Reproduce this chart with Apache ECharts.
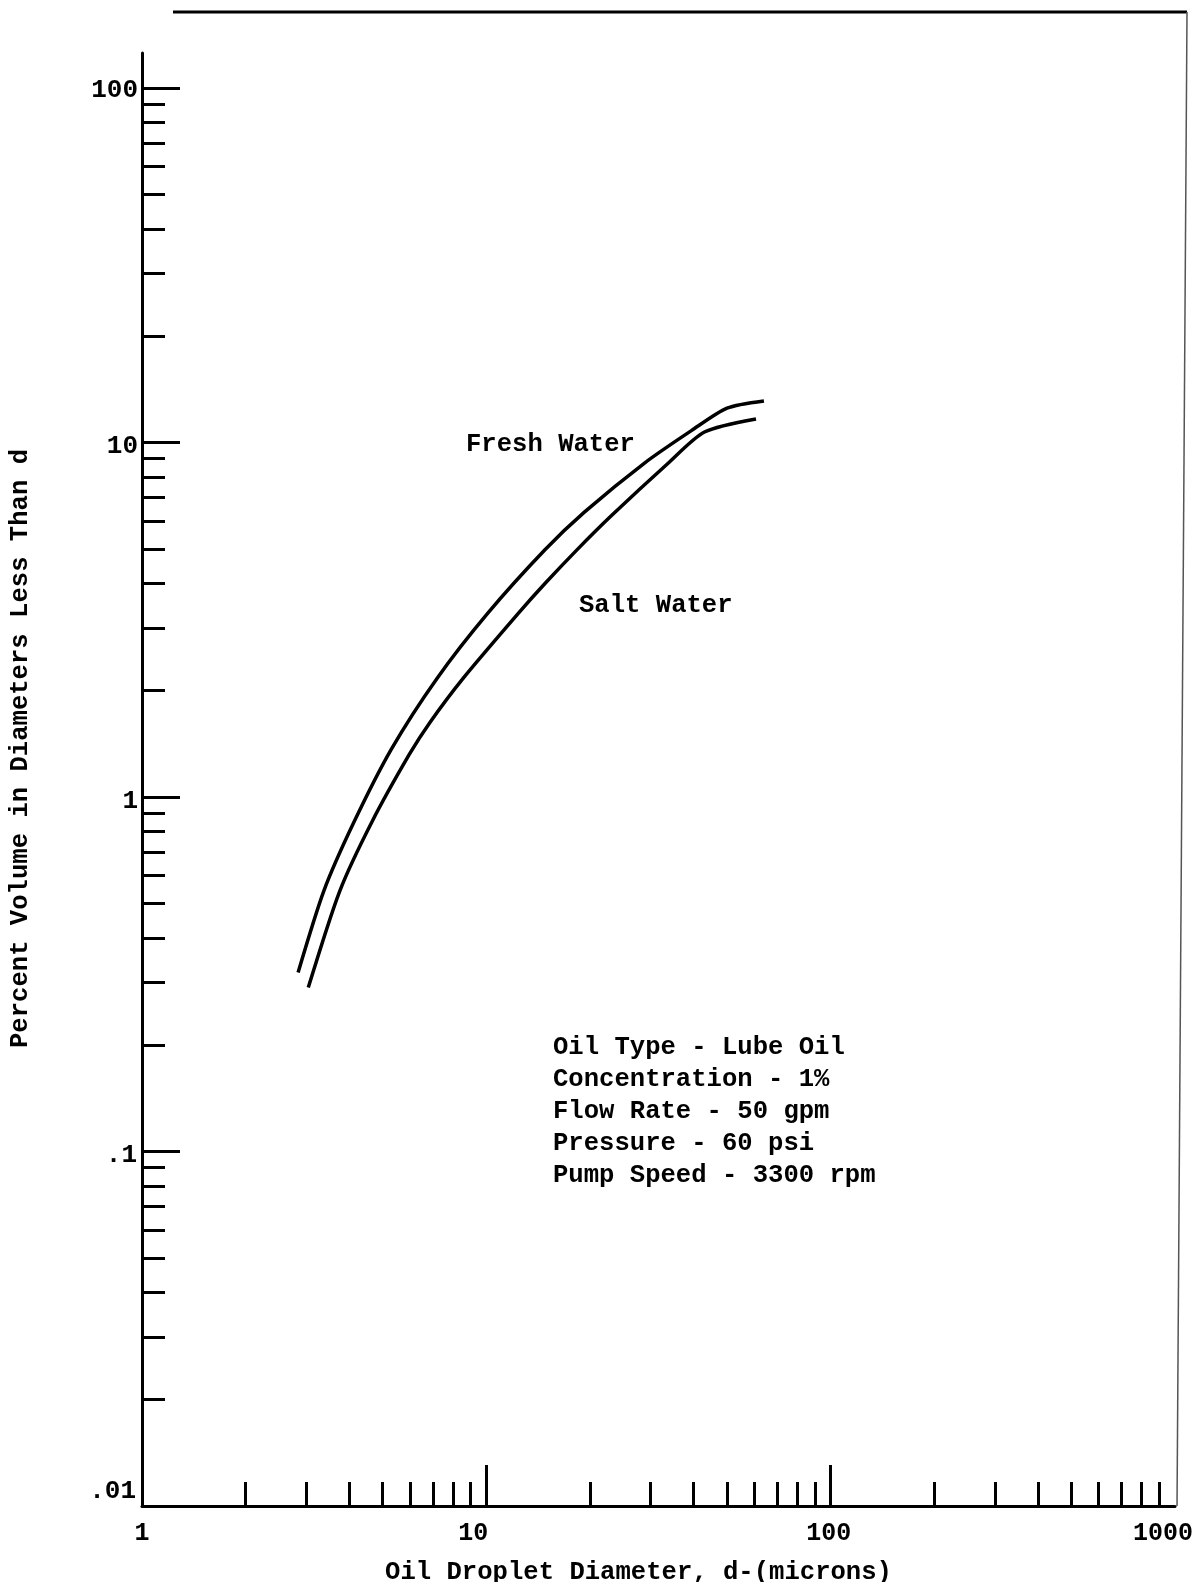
<!DOCTYPE html>
<html>
<head>
<meta charset="utf-8">
<script src="https://cdn.jsdelivr.net/npm/echarts@6/dist/echarts.min.js"></script>
<style>
  html, body { margin: 0; padding: 0; background: #fff; }
  #chart { width: 1197px; height: 1582px; }
</style>
</head>
<body>
<div id="chart"></div>
<script>
// ---- data ----
const freshX = [2.84, 3.37, 4.12, 5.30, 7.19, 10.1, 14.8, 19.3, 28.8, 39.4, 50.0, 64.0];
const freshY = [0.32, 0.542, 0.847, 1.365, 2.16, 3.30, 4.98, 6.37, 8.75, 10.8, 12.5, 13.1];
const saltX = [3.04, 3.75, 4.66, 5.98, 6.85, 8.56, 12.4, 14.8, 18.3, 23.1, 33.6, 43.0, 60.7];
const saltY = [0.29, 0.542, 0.853, 1.32, 1.62, 2.16, 3.30, 4.0, 4.97, 6.22, 8.71, 10.7, 11.65];

const xLabelValues = [1, 10, 100, 1000];
const xMajorTicks = [10, 100];
const xMinorTicks = [2, 3, 4, 5, 6, 7, 8, 9, 20, 30, 40, 50, 60, 70, 80, 90, 200, 300, 400, 500, 600, 700, 800, 900];
const yLabelValues = [0.01, 0.1, 1, 10, 100];
const yLabelTexts = ['.01', '.1', '1', '10', '100'];
const yMajorTicks = [0.1, 1, 10, 100];
const yMinorTicks = [0.02, 0.03, 0.04, 0.05, 0.06, 0.07, 0.08, 0.09,
                     0.2, 0.3, 0.4, 0.5, 0.6, 0.7, 0.8, 0.9,
                     2, 3, 4, 5, 6, 7, 8, 9,
                     20, 30, 40, 50, 60, 70, 80, 90];

const freshLabel = 'Fresh Water';
const saltLabel = 'Salt Water';
const noteLines = ['Oil Type - Lube Oil', 'Concentration - 1%', 'Flow Rate - 50 gpm', 'Pressure - 60 psi', 'Pump Speed - 3300 rpm'];
const xTitle = 'Oil Droplet Diameter, d-(microns)';
const yTitle = 'Percent Volume in Diameters Less Than d';

// ---- chart ----
const FONT = '"Liberation Mono", "DejaVu Sans Mono", monospace';
const pairs = (xs, ys) => xs.map((x, i) => [x, ys[i]]);
const near = (a, b) => Math.abs(Math.log10(a) - Math.log10(b)) < 1e-6;
const txt = (size, padding) => ({ fontFamily: FONT, fontWeight: 'bold', fontSize: size, color: '#000', padding: padding });

const chart = echarts.init(document.getElementById('chart'), null, { renderer: 'canvas' });

const option = {
  backgroundColor: '#fff',
  animation: false,
  grid: { left: 142, right: 22, top: 53, bottom: 76, containLabel: false, outerBoundsMode: 'none' },
  xAxis: [
    {
      type: 'log', logBase: 10, min: 1, max: 1000, position: 'bottom', offset: 0,
      axisLine: { show: true, lineStyle: { color: '#000', width: 3 } },
      axisTick: { show: true, inside: true, length: 41, lineStyle: { color: '#000', width: 3 }, customValues: xMajorTicks },
      axisLabel: {
        show: true, margin: 15, customValues: xLabelValues, hideOverlap: false,
        fontFamily: FONT, fontWeight: 'bold', fontSize: 25, color: '#000',
        formatter: function (v) {
          if (near(v, 1)) return '{a|1}';
          if (near(v, 10)) return '{b|10}';
          if (near(v, 100)) return '{c|100}';
          return '{d|1000}';
        },
        rich: {
          a: txt(25, [0, 0, 0, 0]),
          b: txt(25, [0, 26, 0, 0]),
          c: txt(25, [0, 4, 0, 0]),
          d: txt(25, [0, 24, 0, 0])
        }
      },
      splitLine: { show: false }, minorTick: { show: false }, minorSplitLine: { show: false },
      name: xTitle, nameLocation: 'middle', nameGap: 54,
      nameTextStyle: { fontFamily: FONT, fontWeight: 'bold', fontSize: 25.6, color: '#000', padding: [0, 40, 0, 0] }
    },
    {
      type: 'log', logBase: 10, min: 1, max: 1000, position: 'bottom', offset: 0,
      axisLine: { show: false },
      axisTick: { show: true, inside: true, length: 24, lineStyle: { color: '#000', width: 3 }, customValues: xMinorTicks },
      axisLabel: { show: false },
      splitLine: { show: false }
    }
  ],
  yAxis: [
    {
      type: 'log', logBase: 10, min: 0.01, max: 125.5, position: 'left', offset: 0,
      axisLine: { show: true, lineStyle: { color: '#000', width: 3 } },
      axisTick: { show: true, inside: true, length: 38, lineStyle: { color: '#000', width: 3 }, customValues: yMajorTicks },
      axisLabel: {
        show: true, margin: 4, customValues: yLabelValues, hideOverlap: false,
        fontFamily: FONT, fontWeight: 'bold', fontSize: 26, color: '#000',
        formatter: function (v) {
          const keys = ['p', 'q', 'r', 's', 't'];
          for (let i = 0; i < yLabelValues.length; i++) {
            if (near(v, yLabelValues[i])) return '{' + keys[i] + '|' + yLabelTexts[i] + '}';
          }
          return '';
        },
        rich: {
          p: txt(26, [0, 2, 30, 0]),
          q: txt(26, [8, 1, 0, 0]),
          r: txt(26, [8, 0, 0, 0]),
          s: txt(26, [8, 0, 0, 0]),
          t: txt(26, [4, 0, 0, 0])
        }
      },
      splitLine: { show: false }, minorTick: { show: false },
      name: yTitle, nameLocation: 'middle', nameGap: 108,
      nameTextStyle: { fontFamily: FONT, fontWeight: 'bold', fontSize: 25.6, color: '#000', padding: [0, 0, 0, 62] }
    },
    {
      type: 'log', logBase: 10, min: 0.01, max: 125.5, position: 'left', offset: 0,
      axisLine: { show: false },
      axisTick: { show: true, inside: true, length: 23, lineStyle: { color: '#000', width: 3 }, customValues: yMinorTicks },
      axisLabel: { show: false },
      splitLine: { show: false }
    }
  ],
  series: [
    {
      name: freshLabel, type: 'line', xAxisIndex: 0, yAxisIndex: 0,
      data: pairs(freshX, freshY), smooth: 0.25, showSymbol: false, symbol: 'none',
      lineStyle: { color: '#000', width: 3.5 }, z: 5
    },
    {
      name: saltLabel, type: 'line', xAxisIndex: 0, yAxisIndex: 0,
      data: pairs(saltX, saltY), smooth: 0.25, showSymbol: false, symbol: 'none',
      lineStyle: { color: '#000', width: 3.5 }, z: 5
    }
  ],
  graphic: [
    { type: 'line', shape: { x1: 173, y1: 12, x2: 1187, y2: 12 }, style: { stroke: '#000', lineWidth: 3 } },
    { type: 'line', shape: { x1: 1187, y1: 12, x2: 1177, y2: 1506 }, style: { stroke: '#555', lineWidth: 1.5 } },
    { type: 'text', left: 466, top: 432, style: { text: freshLabel, font: 'bold 25.6px ' + FONT, fill: '#000' } },
    { type: 'text', left: 579, top: 593, style: { text: saltLabel, font: 'bold 25.6px ' + FONT, fill: '#000' } },
    { type: 'text', left: 553, top: 1032, style: { text: noteLines.join('\n'), font: 'bold 25.6px ' + FONT, fill: '#000', lineHeight: 31.8 } }
  ]
};

chart.setOption(option);
</script>
</body>
</html>
